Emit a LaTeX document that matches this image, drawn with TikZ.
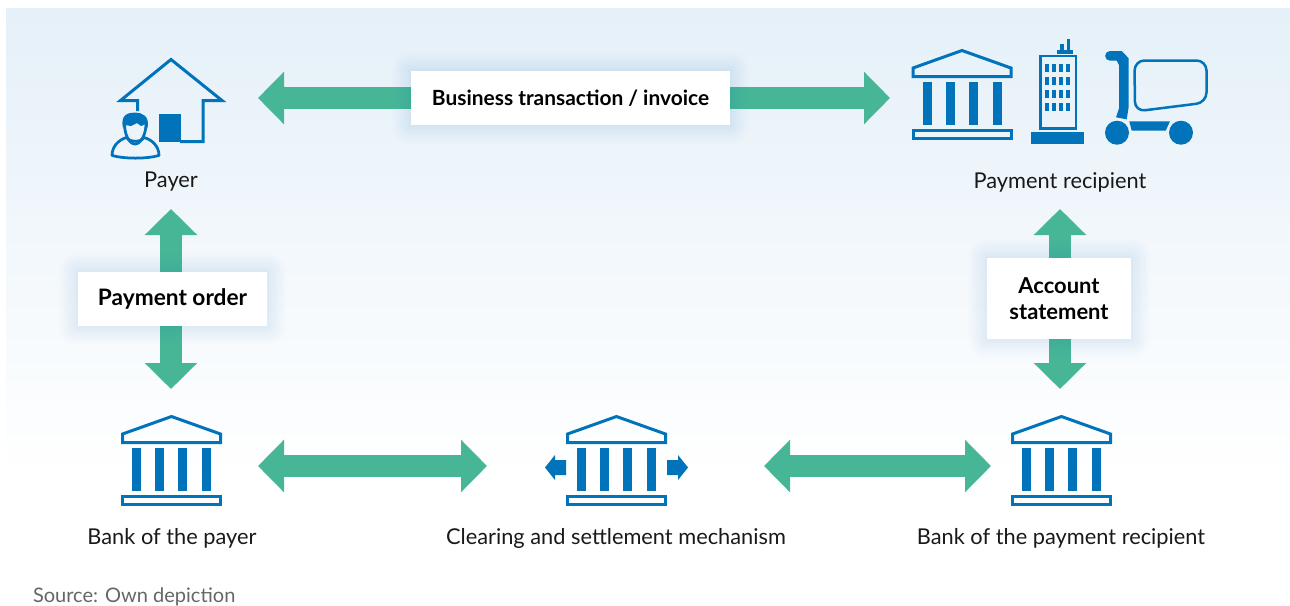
\documentclass[tikz,border=0pt]{standalone}
\usepackage{fontspec}
\setmainfont{Lato}
\usetikzlibrary{arrows.meta}
\definecolor{flowgreen}{HTML}{47B697}
\definecolor{iconblue}{HTML}{0073BB}
\definecolor{skyblue}{HTML}{E5F0F8}
\tikzset{
	flow/.style={flowgreen,line width=4.4mm,{Triangle[length=5.2mm,width=10.2mm]}-{Triangle[length=5.2mm,width=10.2mm]}},
	slot/.style={inner sep=0pt,outer sep=0pt},
	caption/.style={inner sep=0pt,outer sep=0pt,font=\fontsize{12.4}{14.7}\selectfont,text=black!90},
	glow/.style={preaction={draw=iconblue,line join=round,opacity=.012,line width=#1}},
	tag/.style={fill=white,inner sep=0pt,align=center,font=\bfseries\fontsize{12.5}{14.7}\selectfont,
		glow=7.5mm,glow=6.5mm,glow=5.5mm,glow=4.5mm,glow=3.5mm,glow=2.5mm,glow=1.5mm,glow=.7mm},
	line/.style={draw=iconblue,line width=.6mm,line join=miter},
	solid blue/.style={fill=iconblue}
}
\newcommand{\bankicon}[2]{
	\begin{scope}[shift={(#1,#2)}]
		\draw[line] (-48.5,19) -- (.5,1.5) -- (49.5,19) -- (49.5,27.5) -- (-48.5,27.5) -- cycle;
		\foreach \colx in {-39,-16,7,31}
		\fill[solid blue] (\colx,33) rectangle (\colx+9,76);
		\draw[line] (-48.5,81.5) rectangle (49.5,89.5);
	\end{scope}
}
\begin{document}
\begin{tikzpicture}
	[x=.2mm,y=-.2mm]
	\useasboundingbox (0,0) rectangle (1290,605);
	\fill[top color=skyblue,bottom color=white] (6,8) rectangle (1290,480);

	% places the connectors run between
	\node[slot,minimum width=3.48cm,minimum height=1cm] (payer) at (171,98) {};
	\node[slot,minimum width=6.84cm,minimum height=1cm] (recipient) at (1061,98) {};
	\node[caption,minimum height=1.08cm] (n1) at (171,182) {Payer};
	\node[caption,minimum height=1.08cm] (n2) at (1060,182) {Payment recipient};
	\node[slot,minimum width=3.48cm,minimum height=3.08cm] (n3) at (171,466) {};
	\node[slot,minimum width=5.54cm,minimum height=3.08cm] (n4) at (625.5,466) {};
	\node[slot,minimum width=2.76cm,minimum height=3.08cm] (n5) at (1060,466) {};

	\foreach \from/\to in {payer/recipient,n1/n3,n2/n5,n3/n4,n4/n5}
	\draw[flow] (\from) -- (\to);

	\node[tag,font=\bfseries\fontsize{11.9}{14.7}\selectfont,minimum width=6.38cm,minimum height=1.08cm] (invoice) at (570.5,98) {Business transaction / invoice};
	\node[tag,font=\bfseries\fontsize{12.9}{14.7}\selectfont,minimum width=3.78cm,minimum height=1.08cm] (order) at (172.5,299) {Payment order};
	\node[tag,minimum width=2.88cm,minimum height=1.62cm] (statement) at (1059,298.5) {Account\\statement};

	\node[caption] (c1) at (172,538) {Bank of the payer};
	\node[caption] (c2) at (616,538) {Clearing and settlement mechanism};
	\node[caption] (c3) at (1061,538) {Bank of the payment recipient};
	\node[caption,font=\fontsize{11.4}{14}\selectfont,anchor=west,text=black!60] (source) at (33,597) {Source: Own depiction};

	% banks
	\bankicon{171}{415}
	\bankicon{616}{415}
	\bankicon{1061}{415}
	\bankicon{961.5}{49}

	% arrows beside the clearing bank
	\fill[solid blue] (545,467.5) -- (555,455) -- (555,460) -- (566,460) -- (566,475) -- (555,475) -- (555,480) -- cycle;
	\fill[solid blue] (688,467.5) -- (678,455) -- (678,460) -- (667,460) -- (667,475) -- (678,475) -- (678,480) -- cycle;

	% house
	\draw[line] (137.5,111) -- (137.5,100.5) -- (120.5,100.5) -- (171,59.5) -- (222,100.5) -- (203,100.5) -- (203,141.5) -- (180,141.5);
	\fill[solid blue] (158.5,114) rectangle (181,142);
	% person
	\fill[iconblue] (123,128) .. controls (120,115) and (128,112.5) .. (135,112.5) .. controls (142,112.5) and (150,116) .. (147.5,128) -- (146,124) -- (141,126) -- (137,123) -- (131,126) -- (125,125) -- cycle;
	\draw[line,line width=.55mm,line join=round] (124.5,124) .. controls (124.5,134) and (129,144) .. (135,144) .. controls (141,144) and (146,134) .. (146,124);
	\draw[line,line width=.55mm,line join=round] (126.5,137.5) .. controls (118,140) and (112,147) .. (112,155.5) .. controls (125,159) and (146,159) .. (159,155.5) .. controls (159,147) and (153,140) .. (144,137.5) .. controls (141,142.5) and (130,142.5) .. (126.5,137.5);

	% office
	\draw[line,line width=.45mm] (1040.5,56) rectangle (1076,128.5);
	\fill[solid blue] (1031,132) rectangle (1084,144);
	\fill[solid blue] (1057,50) rectangle (1072.5,53.5);
	\fill[solid blue] (1060,44) rectangle (1063.5,50);
	\fill[solid blue] (1066.5,39) rectangle (1070,50);
	\foreach \winx in {1045,1052,1059,1066}
	\foreach \winy in {64,77,90,103}
	\fill[solid blue] (\winx,\winy) rectangle (\winx+4,\winy+8);

	% cart
	\fill[solid blue] (1110,51) -- (1121.7,51) -- (1128.7,58.3) -- (1128.7,106.7) -- (1126.7,119.3) -- (1116,117.3) -- (1119,108.3) -- (1119,65) -- (1116.7,60.7) -- (1110,60.7) arc[start angle=270,end angle=90,x radius=4.85,y radius=-4.85] -- cycle;
	\draw[line,rounded corners=2mm,line width=.5mm] (1134.5,60.5) -- (1206.5,60.5) -- (1206.5,102.5) -- (1135,111.5) -- cycle;
	\fill[solid blue] (1129.3,121.3) -- (1170,121.3) -- (1165.7,130.7) -- (1131.7,130.7) -- cycle;
	\fill[solid blue] (1117,132.7) circle[radius=12];
	\fill[solid blue] (1181,132.7) circle[radius=12];
\end{tikzpicture}
\end{document}
